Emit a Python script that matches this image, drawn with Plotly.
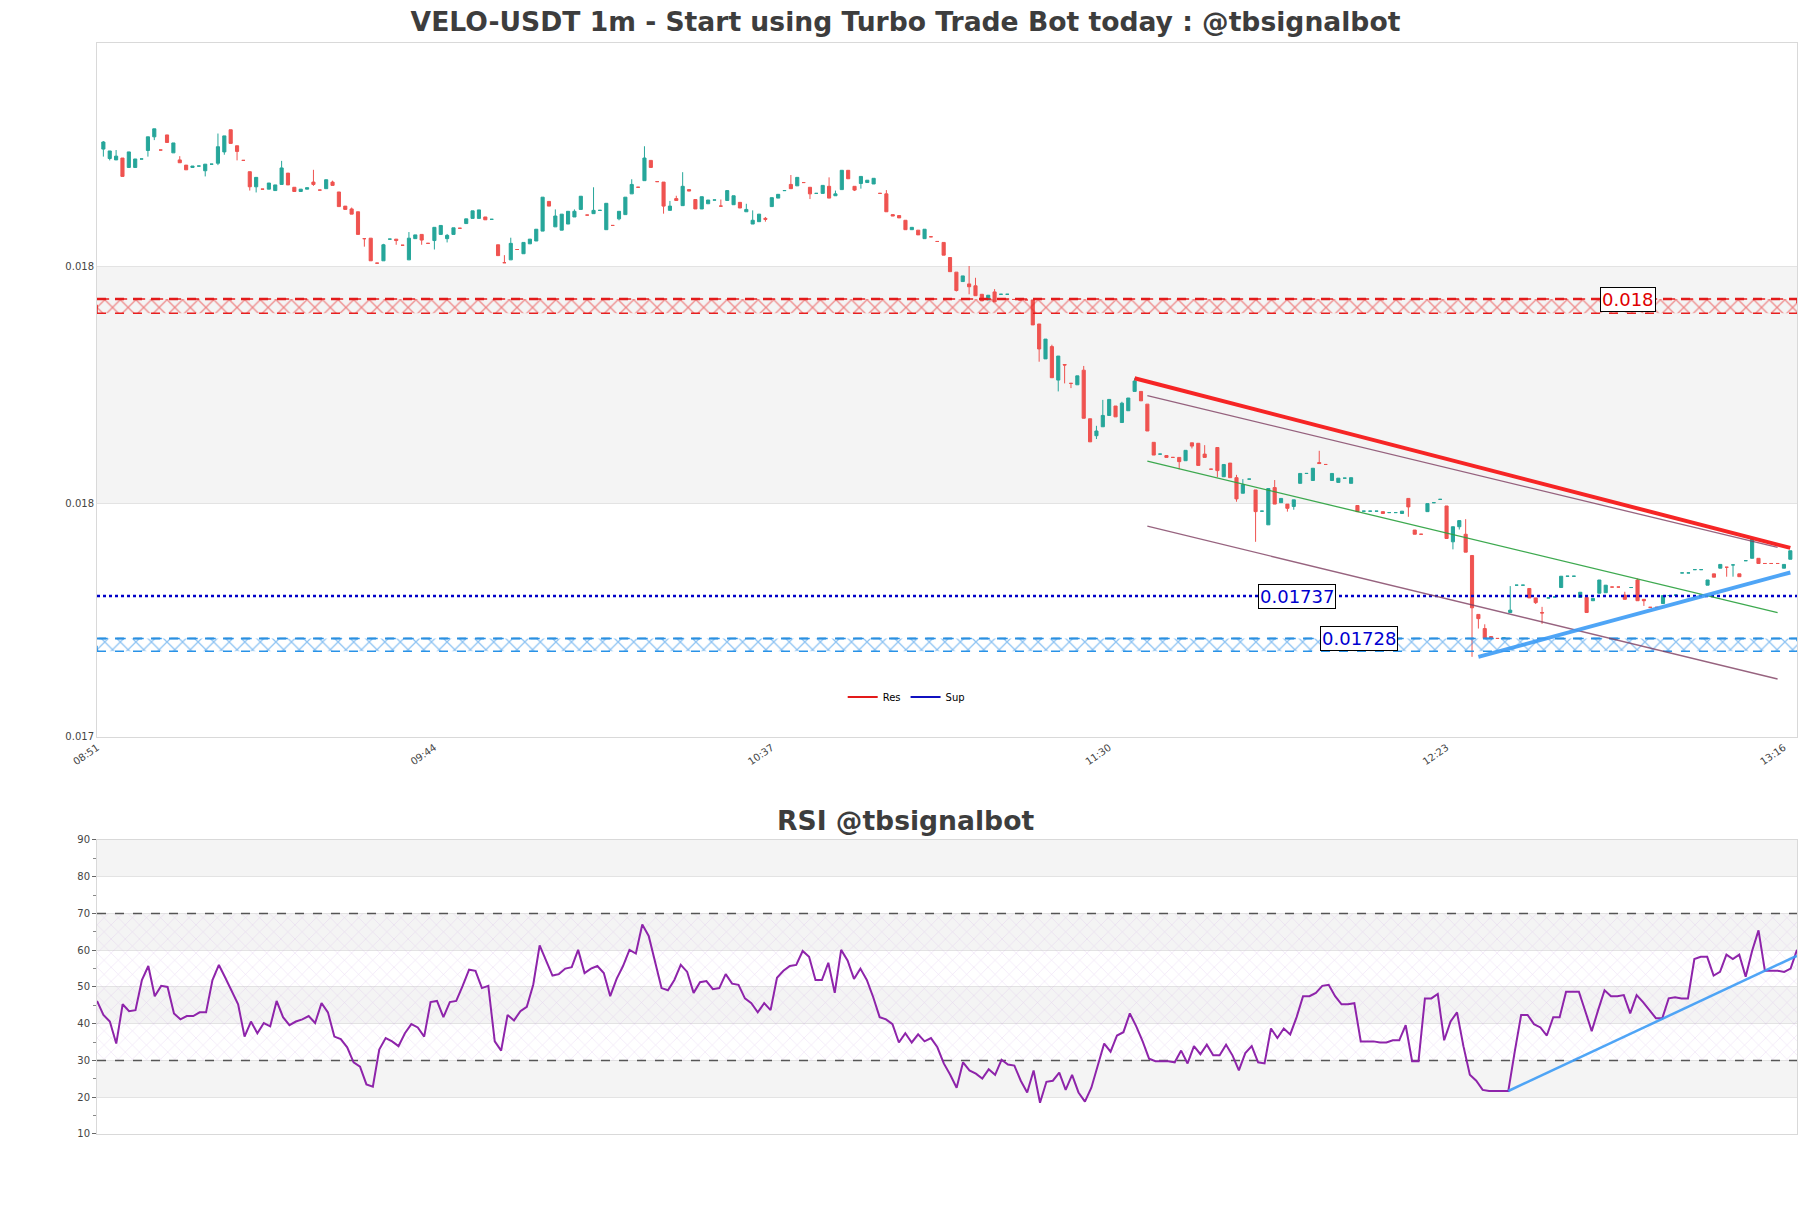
import plotly.graph_objects as go
import pandas as pd

# ---------------- data ----------------
open_ = [
 0.018318,0.018298,0.018295,0.018299,0.018279,0.018279,0.018297,0.018315,0.018344,0.018316,
 0.018348,0.018310,0.018295,0.018284,0.018279,0.018282,0.018272,0.018286,0.018288,0.018312,
 0.018359,0.018325,0.018294,0.018270,0.018238,0.018233,0.018233,0.018230,0.018243,0.018267,
 0.018237,0.018228,0.018233,0.018248,0.018231,0.018234,0.018248,0.018227,0.018197,0.018191,
 0.018185,0.018128,0.018129,0.018076,0.018081,0.018127,0.018127,0.018114,0.018083,0.018128,
 0.018137,0.018118,0.018124,0.018137,0.018128,0.018137,0.018150,0.018160,0.018171,0.018171,
 0.018174,0.018169,0.018115,0.018077,0.018083,0.018105,0.018096,0.018117,0.018123,0.018144,
 0.018207,0.018153,0.018146,0.018159,0.018174,0.018190,0.018178,0.018181,0.018188,0.018147,
 0.018156,0.018170,0.018179,0.018223,0.018237,0.018251,0.018294,0.018249,0.018248,0.018188,
 0.018213,0.018198,0.018232,0.018211,0.018191,0.018202,0.018210,0.018197,0.018209,0.018200,
 0.018205,0.018185,0.018159,0.018164,0.018171,0.018196,0.018214,0.018230,0.018243,0.018240,
 0.018247,0.018237,0.018224,0.018224,0.018239,0.018219,0.018232,0.018273,0.018239,0.018245,
 0.018247,0.018244,0.018224,0.018223,0.018179,0.018177,0.018167,0.018147,0.018146,0.018128,
 0.018132,0.018122,0.018120,0.018088,0.018057,0.018037,0.018032,0.018028,0.018010,0.017998,
 0.018015,0.018010,0.018010,0.017999,0.017998,0.017998,0.017998,0.017947,0.017873,0.017899,
 0.017828,0.017861,0.017821,0.017818,0.017849,0.017746,0.017710,0.017729,0.017753,0.017773,
 0.017738,0.017763,0.017804,0.017804,0.017777,0.017696,0.017671,0.017668,0.017664,0.017664,
 0.017657,0.017695,0.017694,0.017671,0.017639,0.017685,0.017623,0.017652,0.017621,0.017588,
 0.017618,0.017595,0.017550,0.017521,0.017600,0.017568,0.017565,0.017560,0.017609,0.017630,
 0.017615,0.017653,0.017649,0.017615,0.017611,0.017620,0.017609,0.017562,0.017550,0.017550,
 0.017550,0.017549,0.017547,0.017547,0.017545,0.017577,0.017510,0.017501,0.017549,0.017568,
 0.017575,0.017561,0.017485,0.017517,0.017501,0.017456,0.017331,0.017301,0.017284,0.017280,
 0.017281,0.017335,0.017393,0.017393,0.017386,0.017366,0.017335,0.017366,0.017368,0.017388,
 0.017412,0.017412,0.017367,0.017367,0.017360,0.017376,0.017377,0.017389,0.017389,0.017372,
 0.017388,0.017404,0.017363,0.017346,0.017346,0.017354,0.017371,0.017372,0.017419,0.017419,
 0.017426,0.017426,0.017393,0.017417,0.017429,0.017431,0.017436,0.017417,0.017445,0.017450,
 0.017450,0.017439,0.017439,0.017439,0.017429,0.017448]

high = [
 0.018335,0.018314,0.018316,0.018299,0.018312,0.018297,0.018297,0.018344,0.018361,0.018316,
 0.018348,0.018331,0.018303,0.018284,0.018282,0.018282,0.018286,0.018286,0.018351,0.018346,
 0.018359,0.018325,0.018294,0.018270,0.018258,0.018233,0.018246,0.018242,0.018293,0.018267,
 0.018237,0.018233,0.018236,0.018274,0.018231,0.018253,0.018251,0.018227,0.018197,0.018194,
 0.018185,0.018128,0.018129,0.018076,0.018117,0.018127,0.018127,0.018114,0.018142,0.018136,
 0.018137,0.018118,0.018152,0.018156,0.018138,0.018151,0.018150,0.018170,0.018187,0.018189,
 0.018174,0.018169,0.018115,0.018093,0.018130,0.018105,0.018120,0.018127,0.018148,0.018216,
 0.018207,0.018190,0.018180,0.018186,0.018190,0.018218,0.018178,0.018237,0.018188,0.018203,
 0.018156,0.018186,0.018216,0.018254,0.018237,0.018324,0.018294,0.018249,0.018248,0.018208,
 0.018219,0.018269,0.018232,0.018211,0.018217,0.018210,0.018210,0.018211,0.018230,0.018219,
 0.018205,0.018202,0.018188,0.018180,0.018174,0.018215,0.018222,0.018230,0.018263,0.018258,
 0.018247,0.018237,0.018224,0.018241,0.018258,0.018230,0.018273,0.018273,0.018239,0.018260,
 0.018252,0.018256,0.018224,0.018231,0.018179,0.018177,0.018167,0.018152,0.018146,0.018148,
 0.018132,0.018122,0.018120,0.018088,0.018057,0.018049,0.018070,0.018045,0.018010,0.018008,
 0.018021,0.018010,0.018010,0.017999,0.017998,0.017998,0.017998,0.017947,0.017915,0.017903,
 0.017879,0.017861,0.017821,0.017837,0.017858,0.017746,0.017731,0.017786,0.017787,0.017773,
 0.017782,0.017790,0.017832,0.017804,0.017777,0.017696,0.017671,0.017668,0.017664,0.017664,
 0.017679,0.017695,0.017694,0.017690,0.017639,0.017685,0.017649,0.017652,0.017627,0.017618,
 0.017618,0.017595,0.017550,0.017598,0.017616,0.017577,0.017565,0.017574,0.017630,0.017630,
 0.017641,0.017678,0.017649,0.017630,0.017620,0.017620,0.017621,0.017562,0.017550,0.017550,
 0.017550,0.017549,0.017547,0.017547,0.017550,0.017577,0.017510,0.017501,0.017566,0.017568,
 0.017575,0.017561,0.017517,0.017530,0.017533,0.017456,0.017331,0.017310,0.017284,0.017280,
 0.017281,0.017391,0.017393,0.017393,0.017386,0.017366,0.017347,0.017366,0.017368,0.017412,
 0.017412,0.017412,0.017378,0.017367,0.017365,0.017404,0.017393,0.017389,0.017389,0.017379,
 0.017388,0.017407,0.017363,0.017346,0.017346,0.017371,0.017371,0.017372,0.017419,0.017419,
 0.017426,0.017426,0.017404,0.017417,0.017437,0.017431,0.017436,0.017417,0.017445,0.017491,
 0.017450,0.017439,0.017439,0.017439,0.017437,0.017466]

low = [
 0.018302,0.018294,0.018295,0.018260,0.018279,0.018279,0.018297,0.018302,0.018337,0.018316,
 0.018332,0.018310,0.018289,0.018274,0.018279,0.018282,0.018260,0.018286,0.018284,0.018306,
 0.018330,0.018294,0.018294,0.018230,0.018226,0.018233,0.018233,0.018230,0.018243,0.018242,
 0.018228,0.018228,0.018233,0.018240,0.018231,0.018234,0.018241,0.018196,0.018190,0.018180,
 0.018137,0.018111,0.018081,0.018076,0.018081,0.018127,0.018115,0.018114,0.018083,0.018128,
 0.018115,0.018118,0.018105,0.018137,0.018120,0.018137,0.018150,0.018160,0.018171,0.018171,
 0.018168,0.018169,0.018092,0.018077,0.018083,0.018105,0.018096,0.018117,0.018123,0.018144,
 0.018197,0.018153,0.018146,0.018159,0.018174,0.018190,0.018178,0.018181,0.018188,0.018147,
 0.018156,0.018167,0.018179,0.018223,0.018237,0.018251,0.018279,0.018249,0.018181,0.018188,
 0.018209,0.018198,0.018229,0.018191,0.018191,0.018202,0.018210,0.018197,0.018209,0.018200,
 0.018193,0.018185,0.018159,0.018164,0.018164,0.018196,0.018214,0.018230,0.018234,0.018240,
 0.018247,0.018212,0.018224,0.018224,0.018214,0.018219,0.018232,0.018255,0.018229,0.018234,
 0.018247,0.018244,0.018224,0.018185,0.018176,0.018172,0.018147,0.018147,0.018136,0.018128,
 0.018132,0.018122,0.018093,0.018058,0.018016,0.018037,0.018010,0.018007,0.017996,0.017998,
 0.017994,0.018010,0.018010,0.017999,0.017998,0.017998,0.017945,0.017867,0.017873,0.017833,
 0.017804,0.017821,0.017811,0.017818,0.017747,0.017697,0.017703,0.017729,0.017753,0.017750,
 0.017738,0.017763,0.017804,0.017784,0.017720,0.017669,0.017671,0.017664,0.017664,0.017639,
 0.017657,0.017683,0.017647,0.017664,0.017639,0.017622,0.017623,0.017621,0.017570,0.017588,
 0.017618,0.017485,0.017550,0.017521,0.017565,0.017568,0.017549,0.017553,0.017609,0.017630,
 0.017615,0.017651,0.017649,0.017615,0.017611,0.017620,0.017609,0.017549,0.017550,0.017550,
 0.017550,0.017545,0.017547,0.017547,0.017545,0.017538,0.017501,0.017501,0.017549,0.017568,
 0.017575,0.017492,0.017469,0.017511,0.017463,0.017241,0.017301,0.017280,0.017280,0.017280,
 0.017281,0.017335,0.017393,0.017393,0.017366,0.017353,0.017311,0.017366,0.017368,0.017388,
 0.017412,0.017412,0.017367,0.017335,0.017360,0.017376,0.017377,0.017389,0.017389,0.017363,
 0.017388,0.017360,0.017349,0.017346,0.017346,0.017354,0.017371,0.017372,0.017419,0.017419,
 0.017426,0.017426,0.017393,0.017410,0.017429,0.017411,0.017411,0.017411,0.017445,0.017450,
 0.017439,0.017439,0.017439,0.017439,0.017429,0.017448]

close = [
 0.018333,0.018314,0.018303,0.018260,0.018312,0.018297,0.018297,0.018344,0.018361,0.018316,
 0.018332,0.018331,0.018289,0.018274,0.018282,0.018282,0.018286,0.018286,0.018323,0.018346,
 0.018330,0.018313,0.018294,0.018238,0.018258,0.018233,0.018246,0.018242,0.018278,0.018242,
 0.018228,0.018233,0.018236,0.018243,0.018231,0.018253,0.018241,0.018196,0.018190,0.018180,
 0.018137,0.018128,0.018081,0.018076,0.018115,0.018127,0.018124,0.018114,0.018129,0.018136,
 0.018125,0.018118,0.018152,0.018156,0.018135,0.018151,0.018150,0.018170,0.018187,0.018189,
 0.018168,0.018169,0.018092,0.018077,0.018118,0.018105,0.018120,0.018127,0.018148,0.018216,
 0.018197,0.018176,0.018180,0.018186,0.018186,0.018218,0.018178,0.018188,0.018188,0.018203,
 0.018156,0.018186,0.018216,0.018243,0.018237,0.018299,0.018279,0.018249,0.018197,0.018197,
 0.018209,0.018239,0.018229,0.018191,0.018217,0.018210,0.018210,0.018197,0.018230,0.018219,
 0.018193,0.018190,0.018167,0.018180,0.018169,0.018215,0.018222,0.018230,0.018234,0.018258,
 0.018247,0.018223,0.018224,0.018241,0.018214,0.018223,0.018273,0.018255,0.018231,0.018260,
 0.018252,0.018256,0.018224,0.018185,0.018176,0.018172,0.018147,0.018152,0.018136,0.018148,
 0.018132,0.018122,0.018093,0.018058,0.018018,0.018049,0.018026,0.018007,0.017996,0.018008,
 0.017994,0.018010,0.018010,0.017999,0.017998,0.017998,0.017945,0.017894,0.017915,0.017833,
 0.017879,0.017860,0.017821,0.017837,0.017747,0.017697,0.017720,0.017753,0.017787,0.017750,
 0.017779,0.017790,0.017826,0.017784,0.017720,0.017669,0.017671,0.017664,0.017664,0.017655,
 0.017679,0.017688,0.017647,0.017664,0.017639,0.017636,0.017649,0.017621,0.017576,0.017606,
 0.017618,0.017549,0.017550,0.017598,0.017565,0.017577,0.017556,0.017574,0.017630,0.017630,
 0.017641,0.017651,0.017649,0.017630,0.017620,0.017620,0.017621,0.017549,0.017550,0.017550,
 0.017550,0.017545,0.017547,0.017547,0.017550,0.017559,0.017501,0.017501,0.017566,0.017568,
 0.017575,0.017492,0.017517,0.017530,0.017463,0.017345,0.017322,0.017280,0.017280,0.017280,
 0.017281,0.017340,0.017393,0.017393,0.017366,0.017356,0.017334,0.017366,0.017368,0.017412,
 0.017412,0.017412,0.017378,0.017335,0.017365,0.017404,0.017393,0.017389,0.017389,0.017363,
 0.017388,0.017360,0.017360,0.017346,0.017346,0.017371,0.017371,0.017372,0.017419,0.017419,
 0.017426,0.017426,0.017404,0.017410,0.017437,0.017431,0.017436,0.017411,0.017445,0.017491,
 0.017439,0.017439,0.017439,0.017439,0.017437,0.017466]

rsi = [
 46.2,42.4,40.6,34.6,45.3,43.4,43.7,51.9,55.7,47.5,
 50.3,50.0,42.8,41.2,42.1,42.1,43.1,43.1,51.9,56.0,
 52.5,49.1,45.3,36.5,40.6,37.4,40.2,39.3,46.2,41.8,
 39.6,40.6,41.2,42.1,40.2,45.6,43.1,36.5,35.8,33.6,
 29.5,28.3,23.5,22.9,33.0,36.1,35.2,33.9,37.4,39.9,
 39.0,36.5,45.9,46.2,41.8,45.9,46.2,50.3,54.7,54.4,
 49.7,50.3,35.2,32.7,42.4,40.9,43.4,44.6,50.6,61.3,
 57.2,53.1,53.5,55.0,55.4,60.1,53.8,55.0,55.7,53.8,
 47.5,52.2,55.7,60.1,59.1,67.0,63.9,56.6,49.7,49.1,
 51.9,56.0,54.1,48.4,51.3,51.6,49.4,49.7,53.5,50.9,
 50.6,46.9,45.6,43.1,45.6,43.7,52.5,54.4,55.7,56.0,
 59.8,58.2,51.9,51.9,56.6,48.4,60.1,57.2,52.2,55.0,
 51.9,47.2,41.8,41.2,39.9,34.9,37.4,34.9,37.1,35.2,
 36.1,33.6,29.2,26.1,22.6,29.5,27.3,26.4,25.1,27.6,
 26.1,30.2,28.9,28.6,24.5,21.3,27.3,18.5,24.2,24.5,
 26.7,22.0,26.1,21.3,18.8,22.6,28.6,34.6,32.4,36.8,
 37.7,42.8,39.3,35.2,30.5,29.8,29.8,29.8,29.5,32.7,
 29.2,33.9,31.7,34.3,31.4,31.4,34.3,31.4,27.3,32.0,
 33.9,29.5,29.2,38.7,36.1,38.7,37.1,41.8,47.5,47.5,
 48.4,50.3,50.6,47.5,45.3,45.3,45.6,35.2,35.2,35.2,
 34.9,34.9,35.5,35.5,39.6,29.8,29.8,46.9,46.9,48.1,
 35.5,40.6,43.1,33.9,26.1,24.5,22.0,21.7,21.7,21.7,
 21.7,32.4,42.4,42.4,39.9,39.0,36.8,41.8,41.8,48.7,
 48.7,48.7,43.4,38.0,43.7,49.1,47.5,47.5,47.8,42.8,
 47.8,45.9,43.7,41.5,41.5,46.9,47.2,46.9,46.9,57.6,
 58.2,58.2,53.1,54.1,58.8,57.6,58.8,52.8,59.8,65.4,
 54.4,54.4,54.4,54.1,55.0,60.1]

day = "2024-01-01 "
first_candle = "08:52"
times = pd.date_range(day + first_candle, periods=len(close), freq="1min")

x_tick_labels = ["08:51", "09:44", "10:37", "11:30", "12:23", "13:16"]
x_range = [day + "08:51:00", day + "13:18:03"]

y_tick_vals = [0.017071, 0.017567, 0.018068]
y_tick_text = ["0.017", "0.018", "0.018"]
y_range = [0.017071, 0.018543]

res_level = 0.018
res_zone = [0.017970, 0.018000]
sup_level = 0.01737
sup_zone = [0.017253, 0.017280]
sup_zone_level = 0.01728

# trend lines (time, price)
res_trend_t = [day + "11:34", day + "13:17"]
res_trend_p = [0.017832, 0.017472]
chan_t = [day + "11:36", day + "13:15"]
chan_upper_p = [0.017795, 0.017473]
chan_mid_p = [0.017656, 0.017335]
chan_lower_p = [0.017518, 0.017194]
sup_trend_t = [day + "12:28", day + "13:17"]
sup_trend_p = [0.017241, 0.017420]
rsi_trend_t = [day + "12:32", day + "13:17"]
rsi_trend_v = [21.7, 58.5]

label_res_t = day + "12:51:30"
label_sup_t = day + "11:59:30"
label_zone_t = day + "12:09:12"

rsi_ticks = [10, 20, 30, 40, 50, 60, 70, 80, 90]
rsi_range = [10, 90]

# ---------------- figure ----------------
FONT = "DejaVu Sans"
GREEN = "#26a69a"
RED = "#ef5350"
GRID = "#e3e3e3"
FRAME = "#d9d9d9"
BAND = "#f4f4f4"

fig = go.Figure()

# hatch zones
fig.add_trace(go.Scatter(
    x=[x_range[0], x_range[1], x_range[1], x_range[0], x_range[0]],
    y=[res_zone[0], res_zone[0], res_zone[1], res_zone[1], res_zone[0]],
    fill="toself", mode="lines", line=dict(color="rgba(230,20,20,0.95)", width=1.5, dash="dash"),
    fillcolor="rgba(0,0,0,0)",
    fillpattern=dict(shape="x", fgcolor="#e81c1c", bgcolor="rgba(255,255,255,0)", size=11, solidity=0.22),
    showlegend=False, hoverinfo="skip", xaxis="x", yaxis="y"))
fig.add_trace(go.Scatter(
    x=[x_range[0], x_range[1], x_range[1], x_range[0], x_range[0]],
    y=[sup_zone[0], sup_zone[0], sup_zone[1], sup_zone[1], sup_zone[0]],
    fill="toself", mode="lines", line=dict(color="rgba(30,140,230,0.95)", width=1.5, dash="dash"),
    fillcolor="rgba(0,0,0,0)",
    fillpattern=dict(shape="x", fgcolor="#1e88e5", bgcolor="rgba(255,255,255,0)", size=11, solidity=0.22),
    showlegend=False, hoverinfo="skip", xaxis="x", yaxis="y"))

# level lines
fig.add_trace(go.Scatter(x=x_range, y=[res_level, res_level], mode="lines",
    line=dict(color="#e31a1a", width=2.5, dash="dash"), showlegend=False, hoverinfo="skip"))
fig.add_trace(go.Scatter(x=x_range, y=[sup_zone_level, sup_zone_level], mode="lines",
    line=dict(color="#2a8fe0", width=2, dash="dash"), showlegend=False, hoverinfo="skip"))
fig.add_trace(go.Scatter(x=x_range, y=[sup_level, sup_level], mode="lines",
    line=dict(color="#0000c8", width=2.5, dash="dot"), showlegend=False, hoverinfo="skip"))

# candles
fig.add_trace(go.Candlestick(
    x=times, open=open_, high=high, low=low, close=close,
    increasing=dict(line=dict(color=GREEN, width=1), fillcolor=GREEN),
    decreasing=dict(line=dict(color=RED, width=1), fillcolor=RED),
    whiskerwidth=0, showlegend=False, xaxis="x", yaxis="y"))

# channel and trend lines
fig.add_trace(go.Scatter(x=chan_t, y=chan_upper_p, mode="lines",
    line=dict(color="rgba(125,60,95,0.8)", width=1.3), showlegend=False, hoverinfo="skip"))
fig.add_trace(go.Scatter(x=chan_t, y=chan_mid_p, mode="lines",
    line=dict(color="rgba(40,160,60,0.9)", width=1.3), showlegend=False, hoverinfo="skip"))
fig.add_trace(go.Scatter(x=chan_t, y=chan_lower_p, mode="lines",
    line=dict(color="rgba(125,60,95,0.8)", width=1.3), showlegend=False, hoverinfo="skip"))
fig.add_trace(go.Scatter(x=res_trend_t, y=res_trend_p, mode="lines",
    line=dict(color="rgba(245,25,25,0.95)", width=4), showlegend=False, hoverinfo="skip"))
fig.add_trace(go.Scatter(x=sup_trend_t, y=sup_trend_p, mode="lines",
    line=dict(color="rgba(60,155,245,0.9)", width=4), showlegend=False, hoverinfo="skip"))

# legend entries
fig.add_trace(go.Scatter(x=[None], y=[None], mode="lines", name="Res",
    line=dict(color="#e31a1a", width=2)))
fig.add_trace(go.Scatter(x=[None], y=[None], mode="lines", name="Sup",
    line=dict(color="#1010c0", width=2)))

# RSI panel
fig.add_trace(go.Scatter(
    x=[times[0], times[-1], times[-1], times[0], times[0]],
    y=[30, 30, 70, 70, 30], fill="toself", mode="none",
    fillcolor="rgba(0,0,0,0)",
    fillpattern=dict(shape="x", fgcolor="rgba(195,150,220,0.7)", bgcolor="rgba(255,255,255,0)", size=10, solidity=0.1),
    showlegend=False, hoverinfo="skip", xaxis="x2", yaxis="y2"))
fig.add_trace(go.Scatter(x=[times[0], times[-1]], y=[70, 70], mode="lines",
    line=dict(color="#555555", width=1.3, dash="dash"), showlegend=False, hoverinfo="skip",
    xaxis="x2", yaxis="y2"))
fig.add_trace(go.Scatter(x=[times[0], times[-1]], y=[30, 30], mode="lines",
    line=dict(color="#555555", width=1.3, dash="dash"), showlegend=False, hoverinfo="skip",
    xaxis="x2", yaxis="y2"))
fig.add_trace(go.Scatter(x=times, y=rsi, mode="lines",
    line=dict(color="#8e24aa", width=2), showlegend=False, xaxis="x2", yaxis="y2"))
fig.add_trace(go.Scatter(x=rsi_trend_t, y=rsi_trend_v, mode="lines",
    line=dict(color="rgba(60,155,245,0.9)", width=2.5), showlegend=False, hoverinfo="skip",
    xaxis="x2", yaxis="y2"))

# background bands
shapes = [dict(type="rect", xref="x domain", yref="y", x0=0, x1=1,
               y0=y_tick_vals[1], y1=y_tick_vals[2], fillcolor=BAND, line=dict(width=0), layer="below")]
for lo, hi in [(20, 30), (40, 50), (60, 70), (80, 90)]:
    shapes.append(dict(type="rect", xref="x2 domain", yref="y2", x0=0, x1=1, y0=lo, y1=hi,
                       fillcolor=BAND, line=dict(width=0), layer="below"))

def lbl(t, y, text, color):
    return dict(x=t, y=y, xref="x", yref="y", text=text, showarrow=False,
                font=dict(family=FONT, size=18, color=color),
                bgcolor="white", bordercolor="black", borderwidth=1, borderpad=1,
                xanchor="center", yanchor="middle")

annotations = [
    lbl(label_res_t, res_level, "0.018", "#e00000"),
    lbl(label_sup_t, sup_level, "0.01737", "#0000d0"),
    lbl(label_zone_t, sup_zone_level, "0.01728", "#0000d0"),
    dict(text="<b>RSI @tbsignalbot</b>", x=0.4756, y=0.2878, xref="paper", yref="paper",
         xanchor="center", yanchor="middle", showarrow=False,
         font=dict(family=FONT, size=26.6, color="#3d3d3d")),
]

axis_font = dict(family=FONT, size=10, color="#444444")

fig.update_layout(
    width=1811, height=1208,
    margin=dict(l=97, r=14, t=43, b=74),
    paper_bgcolor="white", plot_bgcolor="white",
    title=dict(text="<b>VELO-USDT 1m - Start using Turbo Trade Bot today : @tbsignalbot</b>",
               x=0.5, xanchor="center", y=1 - 22 / 1208, yanchor="middle",
               font=dict(family=FONT, size=26.6, color="#3d3d3d")),
    showlegend=True,
    legend=dict(orientation="h", x=0.476, y=0.4005, xanchor="center", yanchor="middle",
                font=dict(family=FONT, size=10, color="black"), bgcolor="rgba(0,0,0,0)",
                itemwidth=30),
    xaxis=dict(domain=[0, 1], anchor="y", type="date", range=x_range,
               rangeslider=dict(visible=False),
               tickvals=[day + t for t in x_tick_labels], ticktext=x_tick_labels,
               tickangle=-35, tickfont=axis_font, showgrid=False, zeroline=False,
               showline=True, mirror=True, linecolor=FRAME, linewidth=1, ticks=""),
    yaxis=dict(domain=[0.3639, 1], anchor="x", range=y_range,
               tickvals=y_tick_vals, ticktext=y_tick_text, tickfont=axis_font,
               showgrid=True, gridcolor=GRID, zeroline=False,
               showline=True, mirror=True, linecolor=FRAME, linewidth=1, ticks=""),
    xaxis2=dict(domain=[0, 1], anchor="y2", type="date", range=[times[0], times[-1]],
                showticklabels=False, showgrid=False, zeroline=False,
                showline=True, mirror=True, linecolor=FRAME, linewidth=1, ticks=""),
    yaxis2=dict(domain=[0, 0.2695], anchor="x2", range=rsi_range, tickvals=rsi_ticks,
                tickfont=axis_font, showgrid=True, gridcolor=GRID, zeroline=False,
                showline=True, mirror=True, linecolor=FRAME, linewidth=1,
                ticks="outside", ticklen=4, tickcolor="#666666",
                minor=dict(dtick=5, ticks="outside", ticklen=3, tickcolor="#888888", showgrid=False)),
    shapes=shapes,
    annotations=annotations,
)

fig.write_html("out.html")
